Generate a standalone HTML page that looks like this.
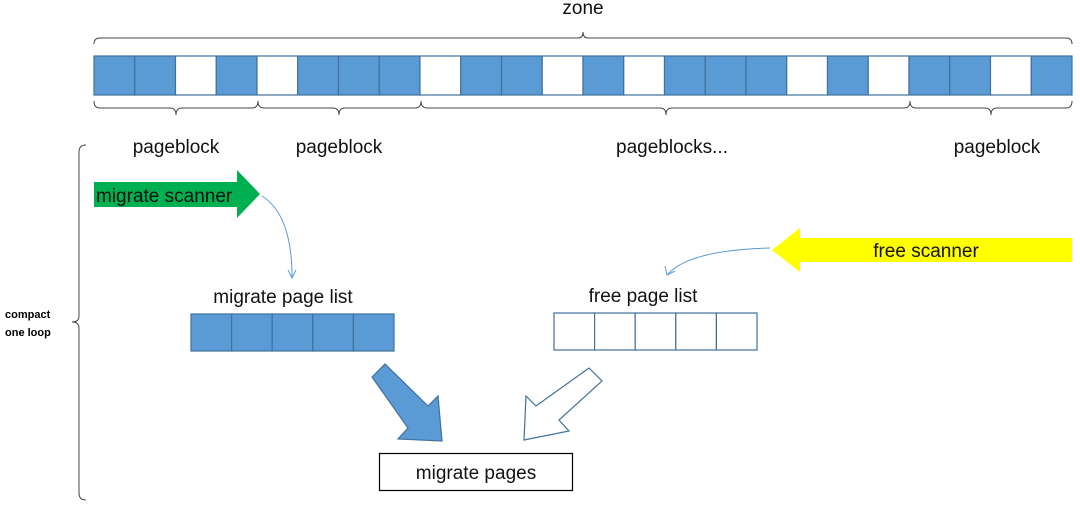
<!DOCTYPE html>
<html><head><style>body{margin:0;background:#fff}svg{display:block}text{font-family:"Liberation Sans",sans-serif}</style></head>
<body>
<svg width="1080" height="507" viewBox="0 0 1080 507" xmlns="http://www.w3.org/2000/svg">
<g stroke="#41719c" stroke-width="1.2">
<rect x="94" y="56" width="40.75" height="39" fill="#5b9bd5"/>
<rect x="134.75" y="56" width="40.75" height="39" fill="#5b9bd5"/>
<rect x="175.5" y="56" width="40.75" height="39" fill="#fff"/>
<rect x="216.25" y="56" width="40.75" height="39" fill="#5b9bd5"/>
<rect x="257" y="56" width="40.75" height="39" fill="#fff"/>
<rect x="297.75" y="56" width="40.75" height="39" fill="#5b9bd5"/>
<rect x="338.5" y="56" width="40.75" height="39" fill="#5b9bd5"/>
<rect x="379.25" y="56" width="40.75" height="39" fill="#5b9bd5"/>
<rect x="420" y="56" width="40.75" height="39" fill="#fff"/>
<rect x="460.75" y="56" width="40.75" height="39" fill="#5b9bd5"/>
<rect x="501.5" y="56" width="40.75" height="39" fill="#5b9bd5"/>
<rect x="542.25" y="56" width="40.75" height="39" fill="#fff"/>
<rect x="583" y="56" width="40.75" height="39" fill="#5b9bd5"/>
<rect x="623.75" y="56" width="40.75" height="39" fill="#fff"/>
<rect x="664.5" y="56" width="40.75" height="39" fill="#5b9bd5"/>
<rect x="705.25" y="56" width="40.75" height="39" fill="#5b9bd5"/>
<rect x="746" y="56" width="40.75" height="39" fill="#5b9bd5"/>
<rect x="786.75" y="56" width="40.75" height="39" fill="#fff"/>
<rect x="827.5" y="56" width="40.75" height="39" fill="#5b9bd5"/>
<rect x="868.25" y="56" width="40.75" height="39" fill="#fff"/>
<rect x="909" y="56" width="40.75" height="39" fill="#5b9bd5"/>
<rect x="949.75" y="56" width="40.75" height="39" fill="#5b9bd5"/>
<rect x="990.5" y="56" width="40.75" height="39" fill="#fff"/>
<rect x="1031.25" y="56" width="40.75" height="39" fill="#5b9bd5"/>
</g>
<g fill="none" stroke="#444" stroke-width="1">
<path d="M94,44 Q94,38 100,38 L578,38 Q583,38 583,32 Q583,38 588,38 L1066,38 Q1072,38 1072,44"/>
<path d="M94,101 Q94,108 100,108 L170,108 Q176,108 176,115 Q176,108 182,108 L252,108 Q258,108 258,101"/>
<path d="M258,101 Q258,108 264,108 L333,108 Q339,108 339,115 Q339,108 345,108 L415,108 Q421,108 421,101"/>
<path d="M421,101 Q421,108 427,108 L660,108 Q666,108 666,115 Q666,108 672,108 L904,108 Q910,108 910,101"/>
<path d="M910,101 Q910,108 916,108 L985,108 Q991,108 991,115 Q991,108 997,108 L1066,108 Q1072,108 1072,101"/>
<path d="M86,145 Q79,145 79,152 L79,316 Q79,322 72,322 Q79,322 79,328 L79,493 Q79,500 86,500"/>
</g>
<rect x="379.5" y="453.5" width="193" height="37" fill="#fff" stroke="#000" stroke-width="1.2"/>
<g font-size="19" fill="#111" text-anchor="middle">
<text x="583" y="14">zone</text>
<text x="176" y="153">pageblock</text>
<text x="339" y="153">pageblock</text>
<text x="672" y="153">pageblocks...</text>
<text x="997" y="153">pageblock</text>
<text x="283" y="303">migrate page list</text>
<text x="643" y="302">free page list</text>
<text x="476" y="479">migrate pages</text>
</g>
<text x="5" y="318" font-size="11" font-weight="bold">compact</text>
<text x="5" y="336" font-size="11" font-weight="bold">one loop</text>
<polygon points="94,182 237,182 237,170 260,194 237,218 237,207 94,207" fill="#00b050"/>
<text x="96" y="202" font-size="19" fill="#111">migrate scanner</text>
<polygon points="1072,238 800,238 800,228 772,250 800,272 800,262 1072,262" fill="#ffff00"/>
<text x="926" y="257" font-size="19" fill="#111" text-anchor="middle">free scanner</text>
<g fill="none" stroke="#5b9bd5" stroke-width="1">
<path d="M262,196 Q292,215 292,277"/><path d="M288,270 L292,278 L296,270"/>
<path d="M770,248 Q690,250 668,274"/><path d="M665,266 L667,275 L675,271"/>
</g>
<g stroke="#41719c" stroke-width="1.2">
<rect x="191" y="314" width="40.6" height="37" fill="#5b9bd5"/><rect x="231.6" y="314" width="40.6" height="37" fill="#5b9bd5"/><rect x="272.2" y="314" width="40.6" height="37" fill="#5b9bd5"/><rect x="312.8" y="314" width="40.6" height="37" fill="#5b9bd5"/><rect x="353.4" y="314" width="40.6" height="37" fill="#5b9bd5"/>
<rect x="554" y="313" width="40.6" height="37" fill="#fff"/><rect x="594.6" y="313" width="40.6" height="37" fill="#fff"/><rect x="635.2" y="313" width="40.6" height="37" fill="#fff"/><rect x="675.8" y="313" width="40.6" height="37" fill="#fff"/><rect x="716.4" y="313" width="40.6" height="37" fill="#fff"/>
<polygon points="372,377 385,364 428,406 438,396 442,441 398,439 408,428" fill="#5b9bd5"/>
<polygon points="589,368 602,381 559,420 569,431 524,440 526,396 536,406" fill="#fff"/>
</g>
</svg>
</body></html>
